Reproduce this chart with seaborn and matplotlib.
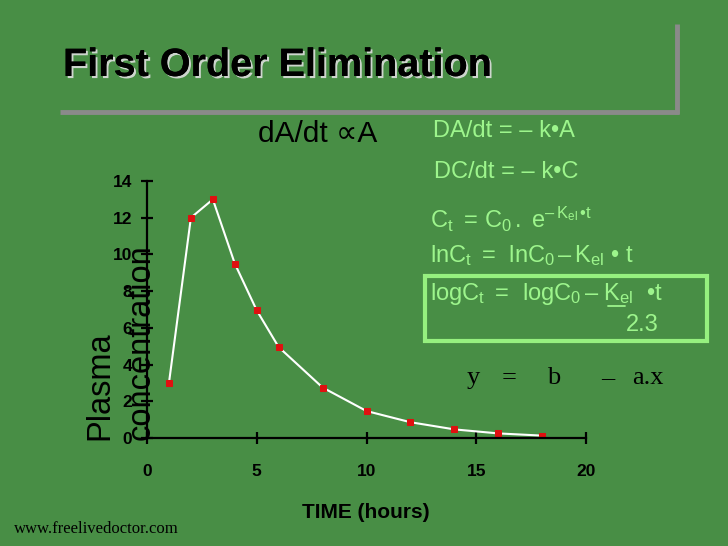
import matplotlib
matplotlib.use("Agg")
import matplotlib.pyplot as plt
import matplotlib.patheffects as pe
from matplotlib.patches import Rectangle
from matplotlib.lines import Line2D
import seaborn as sns
import pandas as pd

# data
hours = [1, 2, 3, 4, 5, 6, 8, 10, 12, 14, 16, 18]
concentration = [3.0, 12.0, 13.0, 9.5, 6.95, 4.95, 2.75, 1.47, 0.86, 0.47, 0.25, 0.13]
x_ticks = [0, 5, 10, 15, 20]
y_ticks = [0, 2, 4, 6, 8, 10, 12, 14]

BG_GREEN = "#488e45"
LIGHT_GREEN = "#9df58c"
BOX_GREEN = "#96f07f"
GREY = "#8a8a8a"

sns.set_style("ticks")
plt.rcParams["font.family"] = ["Liberation Sans", "DejaVu Sans"]
plt.rcParams["mathtext.fontset"] = "custom"
plt.rcParams["mathtext.rm"] = "Liberation Sans"
plt.rcParams["mathtext.it"] = "Liberation Sans"

df = pd.DataFrame({"hours": hours, "conc": concentration})

fig = plt.figure(figsize=(7.28, 5.46), dpi=100)
fig.patch.set_facecolor(BG_GREEN)

ax = fig.add_axes([147 / 728, 1 - 438 / 546, 439 / 728, 257 / 546])
ax.set_facecolor("none")

sns.lineplot(
    data=df, x="hours", y="conc", ax=ax,
    color="white", linewidth=1.5,
    marker="s", markersize=4,
    markerfacecolor="#e01010", markeredgecolor="#e01010",
)

ax.set_xlim(0, 20)
ax.set_ylim(0, 14)
ax.set_xticks(x_ticks)
ax.set_yticks(y_ticks)
ax.set_xlabel("")
ax.set_ylabel("")
for s in ["top", "right"]:
    ax.spines[s].set_visible(False)
for s in ["left", "bottom"]:
    ax.spines[s].set_color("black")
    ax.spines[s].set_linewidth(1.6)
ax.tick_params(axis="both", direction="inout", length=9, width=1.6, colors="black")
ax.tick_params(axis="x", pad=14)
ax.tick_params(axis="y", pad=6)
for lab in ax.get_xticklabels() + ax.get_yticklabels():
    lab.set_fontweight("bold")
    lab.set_fontsize(12.5)

# axis titles
fig.text(366 / 728, 1 - 512 / 546, "TIME (hours)", fontweight="bold",
         fontsize=15, ha="center", va="center", color="black")
fig.text(84 / 728, 1 - 440 / 546, "Plasma\nconcentration", rotation=90,
         ha="left", va="bottom", multialignment="left", fontsize=23.5,
         color="black", linespacing=1.45)

# title with shadow and grey frame
fig.text(63 / 728, 1 - 65 / 546, "First Order Elimination", fontsize=28.5,
         fontweight="bold", color="black", ha="left", va="center",
         path_effects=[pe.withSimplePatchShadow(offset=(1.5, -1.5), shadow_rgbFace="#dddddd", alpha=0.9),
                       pe.Normal()])
fig.add_artist(Line2D([60 / 728, 679 / 728], [1 - 112 / 546, 1 - 112 / 546],
                      transform=fig.transFigure, color=GREY, linewidth=3.5,
                      solid_capstyle="butt"))
fig.add_artist(Line2D([677 / 728, 677 / 728], [1 - 24 / 546, 1 - 113.5 / 546],
                      transform=fig.transFigure, color=GREY, linewidth=3.5,
                      solid_capstyle="butt"))

# proportionality
fig.text(258 / 728, 1 - 134 / 546, "dA/dt ∝A", fontsize=21.5, color="black",
         ha="left", va="center", family=["Liberation Sans", "DejaVu Sans"])

# rate equations
fig.text(433 / 728, 1 - 131 / 546, "DA/dt = – k•A", fontsize=17,
         color=LIGHT_GREEN, ha="left", va="center")
fig.text(434 / 728, 1 - 172 / 546, "DC/dt = – k•C", fontsize=17,
         color=LIGHT_GREEN, ha="left", va="center")
fig.text(430 / 728, 1 - 219 / 546,
         r"$\mathregular{C_t\ =\,C_0\,.\ e^{–\,K_{el}\,•t}}$",
         fontsize=17, color=LIGHT_GREEN, ha="left", va="center")
fig.text(430 / 728, 1 - 256 / 546,
         r"$\mathregular{lnC_t\ =\ \,lnC_0\,–\,K_{el}\ •\ t}$",
         fontsize=17, color=LIGHT_GREEN, ha="left", va="center")

fig.add_artist(Rectangle((425 / 728, 1 - 341 / 546), 282 / 728, 65 / 546,
                         transform=fig.transFigure, fill=False,
                         edgecolor=BOX_GREEN, linewidth=3))
fig.text(430 / 728, 1 - 294 / 546,
         r"$\mathregular{logC_t\ =\ \,logC_0\,–\ K_{el}\ \ •t}$",
         fontsize=17, color=LIGHT_GREEN, ha="left", va="center")
fig.add_artist(Line2D([608 / 728, 625 / 728], [1 - 306 / 546, 1 - 306 / 546],
                      transform=fig.transFigure, color=LIGHT_GREEN, linewidth=1.3))
fig.text(626 / 728, 1 - 325 / 546, "2.3", fontsize=17, color=LIGHT_GREEN,
         ha="left", va="center")

# linear form
serif = ["Liberation Serif", "DejaVu Serif"]
for xp, s in [(467, "y"), (502, "="), (547, "b"), (601, "–"), (632, "a.x")]:
    fig.text(xp / 728, 1 - 378 / 546, s, fontsize=19, color="black",
             ha="left", va="center", family=serif)

fig.text(14 / 728, 1 - 529 / 546, "www.freelivedoctor.com", fontsize=12,
         color="black", ha="left", va="center", family=serif)

fig.savefig("out.png", dpi=100, facecolor=BG_GREEN)
